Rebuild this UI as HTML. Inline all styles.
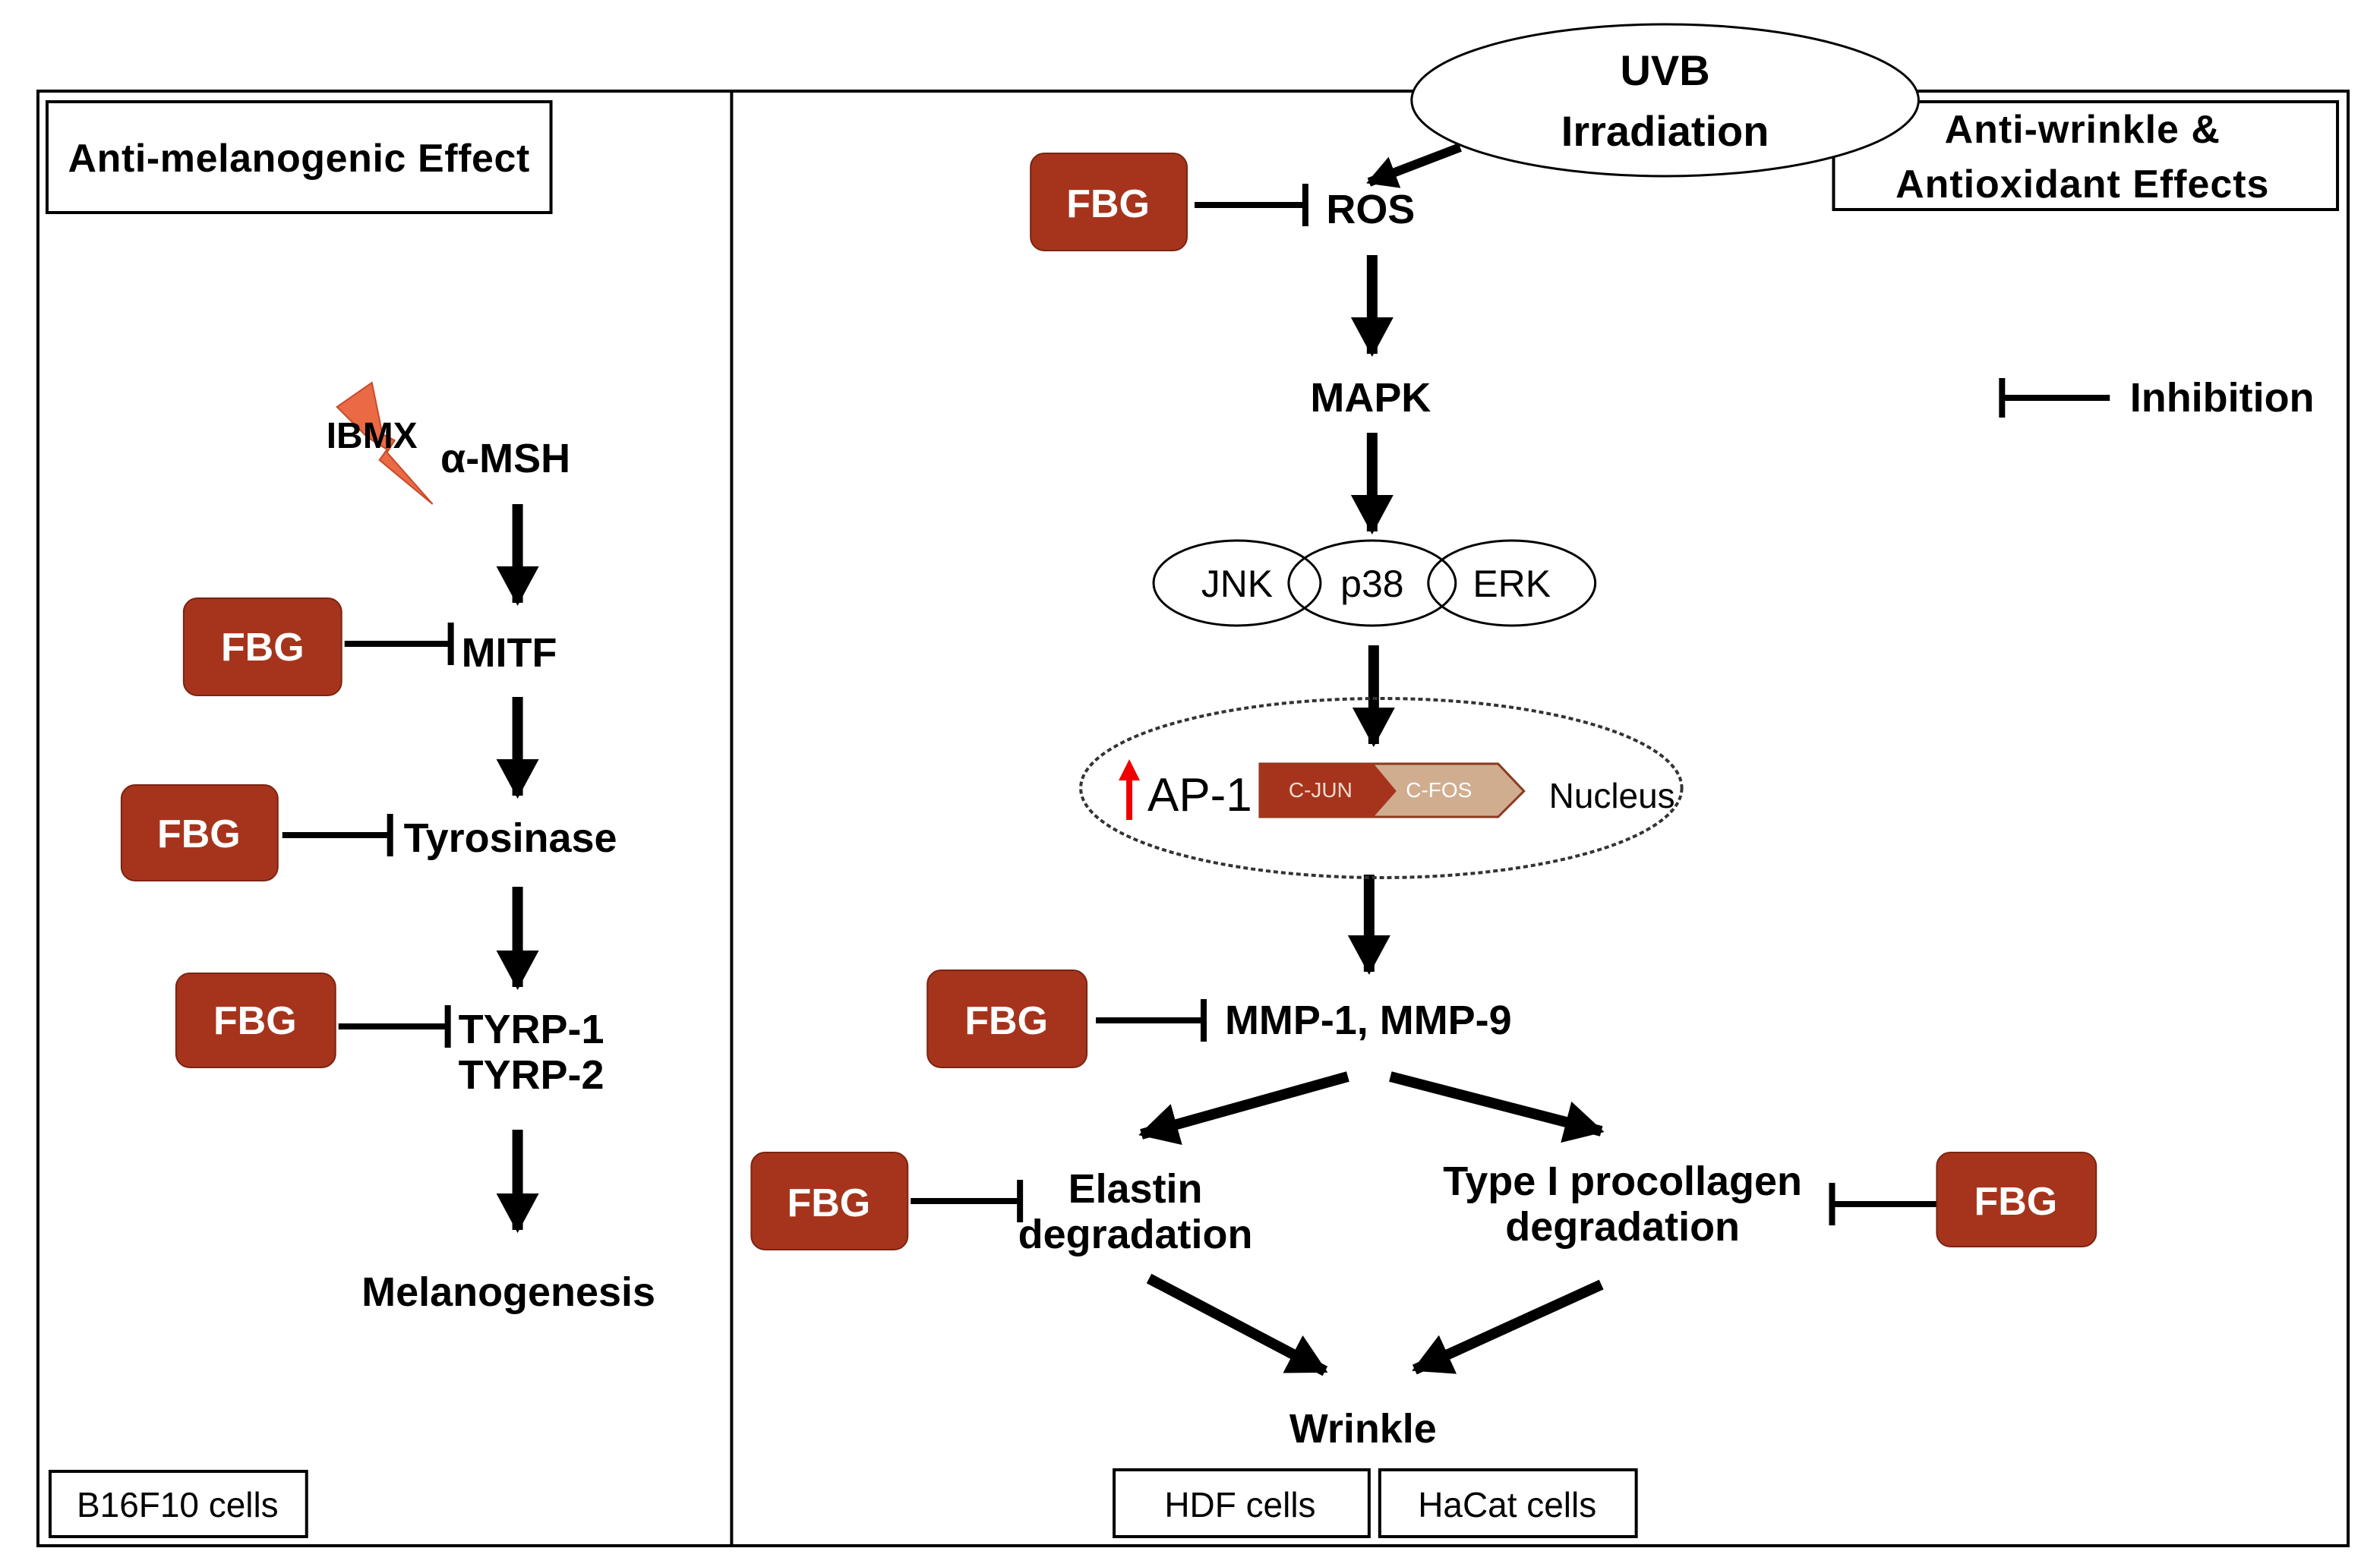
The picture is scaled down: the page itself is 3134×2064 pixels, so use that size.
<!DOCTYPE html>
<html><head><meta charset="utf-8"><style>
html,body{margin:0;padding:0;background:#fff;}
svg{display:block;}
text{font-family:"Liberation Sans",Arial,sans-serif;}
.b{font-weight:bold;}
</style></head><body>
<svg width="3134" height="2064" viewBox="0 0 1568 1032" preserveAspectRatio="none" xmlns="http://www.w3.org/2000/svg">
<defs>
<marker id="ah" markerUnits="userSpaceOnUse" markerWidth="30" markerHeight="30" refX="24" refY="14" orient="auto">
<polygon points="0,0 26,14 0,28" fill="#000"/>
</marker>
<marker id="ahs" markerUnits="userSpaceOnUse" markerWidth="24" markerHeight="24" refX="18" refY="11" orient="auto">
<polygon points="0,0 20,11 0,22" fill="#000"/>
</marker>
</defs>
<rect x="0" y="0" width="1568" height="1032" fill="#fff"/>
<rect x="25" y="60" width="1522" height="958" fill="none" stroke="#000" stroke-width="2"/>
<line x1="482" y1="60" x2="482" y2="1018" stroke="#000" stroke-width="2"/>
<rect x="31" y="67" width="332" height="73" fill="#fff" stroke="#000" stroke-width="2"/>
<text x="197" y="113" text-anchor="middle" class="b" font-size="26" letter-spacing="0.3">Anti-melanogenic Effect</text>
<rect x="1208" y="67" width="332" height="71" fill="#fff" stroke="#000" stroke-width="2"/>
<text x="1372" y="94" text-anchor="middle" class="b" font-size="26" letter-spacing="0.5">Anti-wrinkle &amp;</text>
<text x="1372" y="130" text-anchor="middle" class="b" font-size="26" letter-spacing="0.5">Antioxidant Effects</text>
<ellipse cx="1097" cy="66" rx="167" ry="50" fill="#fff" stroke="#000" stroke-width="1.5"/>
<text x="1097" y="56" text-anchor="middle" class="b" font-size="28">UVB</text>
<text x="1097" y="96" text-anchor="middle" class="b" font-size="28">Irradiation</text>

<g stroke="#000" stroke-width="7" fill="none">
<line x1="962" y1="97" x2="902" y2="120" stroke-width="6" marker-end="url(#ahs)"/>
<line x1="904" y1="168" x2="904" y2="233" marker-end="url(#ah)"/>
<line x1="904" y1="285" x2="904" y2="350" marker-end="url(#ah)"/>
<line x1="905" y1="425" x2="905" y2="490" marker-end="url(#ah)"/>
<line x1="902" y1="576" x2="902" y2="640" marker-end="url(#ah)"/>
<line x1="888" y1="709" x2="752" y2="747" marker-end="url(#ah)"/>
<line x1="916" y1="709" x2="1055" y2="745" marker-end="url(#ah)"/>
<line x1="757" y1="842" x2="873" y2="903" marker-end="url(#ah)"/>
<line x1="1055" y1="846" x2="932" y2="902" marker-end="url(#ah)"/>
<line x1="341" y1="332" x2="341" y2="397" marker-end="url(#ah)"/>
<line x1="341" y1="459" x2="341" y2="524" marker-end="url(#ah)"/>
<line x1="341" y1="584" x2="341" y2="650" marker-end="url(#ah)"/>
<line x1="341" y1="744" x2="341" y2="810" marker-end="url(#ah)"/>
</g>

<g stroke="#000" stroke-width="4" fill="none">
<line x1="787" y1="135" x2="860" y2="135"/><line x1="860" y1="121" x2="860" y2="149"/>
<line x1="722" y1="672" x2="793" y2="672"/><line x1="793" y1="658" x2="793" y2="686"/>
<line x1="600" y1="791" x2="672" y2="791"/><line x1="672" y1="777" x2="672" y2="805"/>
<line x1="1207" y1="793" x2="1276" y2="793"/><line x1="1207" y1="779" x2="1207" y2="807"/>
<line x1="1319" y1="262" x2="1390" y2="262"/><line x1="1319" y1="249" x2="1319" y2="275"/>
<line x1="227" y1="424" x2="297" y2="424"/><line x1="297" y1="410" x2="297" y2="438"/>
<line x1="186" y1="550" x2="257" y2="550"/><line x1="257" y1="536" x2="257" y2="564"/>
<line x1="223" y1="676" x2="295" y2="676"/><line x1="295" y1="662" x2="295" y2="690"/>
</g>

<g fill="#a6341c" stroke="#7a2412" stroke-width="1">
<rect x="679" y="101" width="103" height="64" rx="9"/>
<rect x="611" y="639" width="105" height="64" rx="9"/>
<rect x="495" y="759" width="103" height="64" rx="9"/>
<rect x="1276" y="759" width="105" height="62" rx="9"/>
<rect x="121" y="394" width="104" height="64" rx="9"/>
<rect x="80" y="517" width="103" height="63" rx="9"/>
<rect x="116" y="641" width="105" height="62" rx="9"/>
</g>
<g fill="#fff" font-size="26" text-anchor="middle">
<text x="730" y="143" class="b">FBG</text>
<text x="663" y="681" class="b">FBG</text>
<text x="546" y="801" class="b">FBG</text>
<text x="1328" y="800" class="b">FBG</text>
<text x="173" y="435" class="b">FBG</text>
<text x="131" y="558" class="b">FBG</text>
<text x="168" y="681" class="b">FBG</text>
</g>

<g font-size="27" text-anchor="middle" fill="#000">
<text x="903" y="147" class="b">ROS</text>
<text x="903" y="271" class="b">MAPK</text>
<text x="748" y="792" class="b">Elastin</text>
<text x="748" y="822" class="b">degradation</text>
<text x="1069" y="787" class="b">Type I procollagen</text>
<text x="1069" y="817" class="b">degradation</text>
<text x="898" y="950" class="b">Wrinkle</text>
<text x="1464" y="271" class="b">Inhibition</text>
<text x="350" y="687" class="b">TYRP-1</text>
<text x="350" y="717" class="b">TYRP-2</text>
<text x="335" y="860" class="b">Melanogenesis</text>
<text x="333" y="311" class="b">α-MSH</text>
</g>
<g font-size="27" fill="#000">
<text x="304" y="439" class="b">MITF</text>
<text x="266" y="561" class="b">Tyrosinase</text>
<text x="807" y="681" class="b">MMP-1, MMP-9</text>
</g>

<g fill="none" stroke="#000" stroke-width="1.5">
<ellipse cx="815" cy="384" rx="55" ry="28"/>
<ellipse cx="904" cy="384" rx="55" ry="28"/>
<ellipse cx="996" cy="384" rx="55" ry="28"/>
</g>
<g font-size="25" text-anchor="middle">
<text x="815" y="393">JNK</text><text x="904" y="393">p38</text><text x="996" y="393">ERK</text>
</g>

<ellipse cx="910" cy="519" rx="198" ry="59" fill="none" stroke="#333" stroke-width="2" stroke-dasharray="3,2"/>
<line x1="744" y1="540" x2="744" y2="512" stroke="#e00" stroke-width="4"/>
<polygon points="737,514 751,514 744,500" fill="#e00"/>
<text x="756" y="534" font-size="31">AP-1</text>
<polygon points="830,503 987,503 1004,521 987,538 830,538" fill="#d1ad90" stroke="#8a3a20" stroke-width="1.5"/>
<polygon points="830,503 905,503 920,521 905,538 830,538" fill="#a6341c"/>
<text x="870" y="525" font-size="14" fill="#f4dcd0" text-anchor="middle">C-JUN</text>
<text x="948" y="525" font-size="14" fill="#fff" text-anchor="middle">C-FOS</text>
<text x="1062" y="532" font-size="23" text-anchor="middle">Nucleus</text>

<polygon points="222,268 245,252 252,286 260,290 255,298 285,332 250,303 255,296 242,288" fill="#ea6a45" stroke="#c84a2a" stroke-width="1"/>
<text x="245" y="295" class="b" font-size="24" text-anchor="middle">IBMX</text>

<g fill="#fff" stroke="#000" stroke-width="2">
<rect x="33" y="969" width="169" height="43"/>
<rect x="734" y="968" width="168" height="44"/>
<rect x="909" y="968" width="169" height="44"/>
</g>
<g font-size="23" text-anchor="middle">
<text x="117" y="999">B16F10 cells</text>
<text x="817" y="999">HDF cells</text>
<text x="993" y="999">HaCat cells</text>
</g>
</svg>
</body></html>
